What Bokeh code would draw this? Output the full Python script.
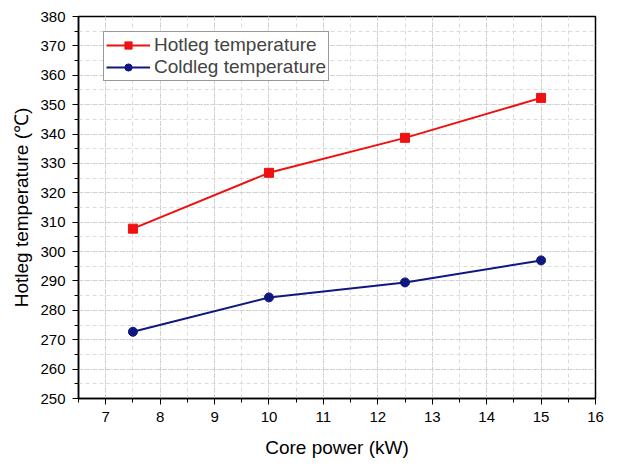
from bokeh.plotting import figure
from bokeh.models import SingleIntervalTicker, Range1d, Legend, LegendItem
from bokeh.embed import file_html
from bokeh.resources import INLINE

power = [7.5, 10, 12.5, 15]
hotleg = [307.8, 326.8, 338.7, 352.3]
coldleg = [272.7, 284.4, 289.5, 297.0]

FONT = "Liberation Sans"

p = figure(width=628, height=468, output_backend="svg", toolbar_location=None,
           x_range=Range1d(6.5, 16), y_range=Range1d(250, 380),
           min_border_left=78, min_border_right=33, min_border_top=16, min_border_bottom=70)

p.xaxis.ticker = SingleIntervalTicker(interval=1, num_minor_ticks=2)
p.yaxis.ticker = SingleIntervalTicker(interval=10, num_minor_ticks=2)

for ax in (p.xaxis[0], p.yaxis[0]):
    ax.major_label_text_font = FONT
    ax.major_label_text_font_size = "15px"
    ax.major_label_text_color = "black"
    ax.major_label_standoff = 7
    ax.axis_label_text_font = FONT
    ax.axis_label_text_font_size = "19px"
    ax.axis_label_text_font_style = "normal"
    ax.axis_label_text_color = "black"
    ax.axis_line_color = "black"
    ax.axis_line_width = 1.5
    ax.major_tick_line_color = "black"
    ax.minor_tick_line_color = "black"
    ax.major_tick_out = 6
    ax.major_tick_in = 0
    ax.minor_tick_out = 4
    ax.minor_tick_in = 0

p.xaxis.axis_label = "Core power (kW)"
p.yaxis.axis_label = "Hotleg temperature (\u2103)"
p.xaxis.axis_label_standoff = 12
p.yaxis.axis_label_standoff = 5

p.outline_line_color = "black"
p.outline_line_width = 1.5

for g in (p.xgrid[0], p.ygrid[0]):
    g.grid_line_color = "#b8b8b8"
    g.grid_line_dash = "1 2"
    g.grid_line_width = 1
    g.minor_grid_line_color = "#dcdcdc"
    g.minor_grid_line_dash = "4 3"
    g.minor_grid_line_width = 1

hl = p.line(power, hotleg, line_color="#ee1111", line_width=2)
hs = p.scatter(power, hotleg, marker="square", size=9, fill_color="#ee1111", line_color="#ee1111")
cl = p.line(power, coldleg, line_color="#101880", line_width=2)
cs = p.scatter(power, coldleg, marker="circle", size=9, fill_color="#101880", line_color="#101880")

legend = Legend(items=[
    LegendItem(label="Hotleg temperature", renderers=[hl, hs]),
    LegendItem(label="Coldleg temperature", renderers=[cl, cs]),
], location=(25, 317))
legend.label_text_font = FONT
legend.label_text_font_size = "19px"
legend.label_height = 18
legend.glyph_width = 44
legend.glyph_height = 18
legend.spacing = 0
legend.padding = 2
legend.margin = 0
legend.label_standoff = 4
legend.border_line_color = "#333333"
legend.border_line_width = 1
legend.background_fill_alpha = 1
p.add_layout(legend)

open("out.html", "w").write(file_html(p, INLINE))
